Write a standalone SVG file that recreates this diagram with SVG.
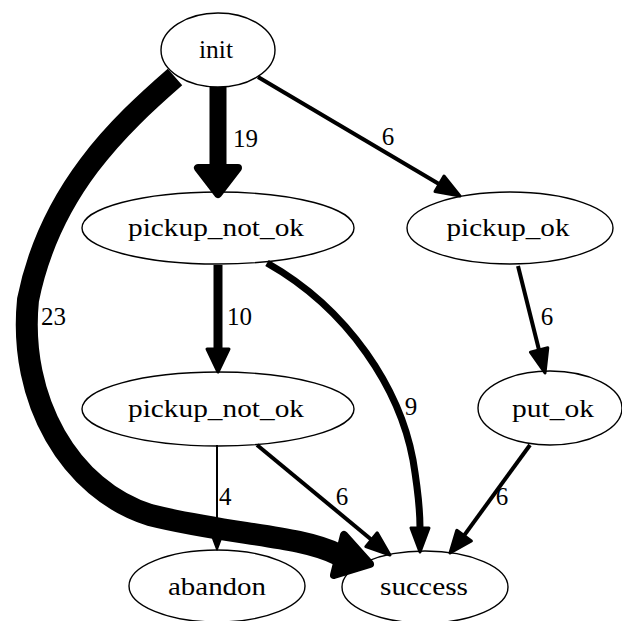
<svg xmlns="http://www.w3.org/2000/svg" width="622" height="621" viewBox="0 0 622 621">
<rect width="622" height="621" fill="#fff"/>
<g fill="none" stroke="#000" stroke-width="1.4">
<g id="init"><ellipse cx="218" cy="50" rx="57" ry="37"/></g>
<g id="pickup_not_ok_1"><ellipse cx="218" cy="228" rx="136" ry="36"/></g>
<g id="pickup_ok"><ellipse cx="510" cy="228" rx="103" ry="36"/></g>
<g id="pickup_not_ok_2"><ellipse cx="218" cy="409" rx="136" ry="37"/></g>
<g id="put_ok"><ellipse cx="550" cy="408" rx="72" ry="37"/></g>
<g id="abandon"><ellipse cx="217" cy="586" rx="88" ry="36"/></g>
<g id="success"><ellipse cx="425" cy="587" rx="83" ry="36"/></g>
</g>
<text x="216" y="58" font-family="Liberation Serif" font-size="26" text-anchor="middle" textLength="34" lengthAdjust="spacingAndGlyphs">init</text>
<text x="216" y="236" font-family="Liberation Serif" font-size="26" text-anchor="middle" textLength="176" lengthAdjust="spacingAndGlyphs">pickup_not_ok</text>
<text x="508" y="236" font-family="Liberation Serif" font-size="26" text-anchor="middle" textLength="123" lengthAdjust="spacingAndGlyphs">pickup_ok</text>
<text x="216" y="417" font-family="Liberation Serif" font-size="26" text-anchor="middle" textLength="176" lengthAdjust="spacingAndGlyphs">pickup_not_ok</text>
<text x="553" y="417" font-family="Liberation Serif" font-size="26" text-anchor="middle" textLength="82" lengthAdjust="spacingAndGlyphs">put_ok</text>
<text x="217" y="595" font-family="Liberation Serif" font-size="26" text-anchor="middle" textLength="98" lengthAdjust="spacingAndGlyphs">abandon</text>
<text x="424" y="595" font-family="Liberation Serif" font-size="26" text-anchor="middle" textLength="88" lengthAdjust="spacingAndGlyphs">success</text>
<g id="edges" stroke="#000" stroke-linejoin="round">
<line x1="218" y1="87" x2="218" y2="168" stroke-width="17"/>
<polygon points="198,168 238,168 218,194" stroke-width="8" fill="#000"/>
<path d="M175,77 C120,125 50,190 28,300 C18,400 70,490 150,515 C230,535 300,535 339,555" stroke-width="22" fill="none"/>
<polygon points="344,535 334,575 370,564" stroke-width="8" fill="#000"/>
<line x1="258" y1="77" x2="439" y2="184" stroke-width="4"/>
<polygon points="435,191.5 444,176 460,196" stroke-width="3" fill="#000"/>
<line x1="218" y1="265" x2="218" y2="350" stroke-width="9"/>
<polygon points="207,349 229,349 218,372" stroke-width="3" fill="#000"/>
<path d="M267,263 C350,310 400,390 413,460 C418,490 420,510 420,528" stroke-width="7" fill="none"/>
<polygon points="411,528 429,528 420,552" stroke-width="3" fill="#000"/>
<line x1="518" y1="266" x2="539" y2="350" stroke-width="4"/>
<polygon points="547.8,347.8 530.4,352.2 545,373" stroke-width="3" fill="#000"/>
<line x1="217" y1="445" x2="217" y2="539" stroke-width="2"/>
<polygon points="212.5,538 221.5,538 217,550" stroke-width="1.5" fill="#000"/>
<line x1="257" y1="445" x2="371.5" y2="539.7" stroke-width="4"/>
<polygon points="365.8,546.6 377.2,532.8 390,555" stroke-width="3" fill="#000"/>
<line x1="530" y1="445" x2="464" y2="535.6" stroke-width="4"/>
<polygon points="471.4,540.9 456.8,530.3 450,553" stroke-width="3" fill="#000"/>
</g>
<text x="233" y="147" font-family="Liberation Serif" font-size="25">19</text>
<text x="41" y="325" font-family="Liberation Serif" font-size="25">23</text>
<text x="388" y="145" font-family="Liberation Serif" font-size="25" text-anchor="middle">6</text>
<text x="227" y="325" font-family="Liberation Serif" font-size="25">10</text>
<text x="411" y="415" font-family="Liberation Serif" font-size="25" text-anchor="middle">9</text>
<text x="547" y="325" font-family="Liberation Serif" font-size="25" text-anchor="middle">6</text>
<text x="219" y="505" font-family="Liberation Serif" font-size="25">4</text>
<text x="342" y="505" font-family="Liberation Serif" font-size="25" text-anchor="middle">6</text>
<text x="502" y="505" font-family="Liberation Serif" font-size="25" text-anchor="middle">6</text>
</svg>
